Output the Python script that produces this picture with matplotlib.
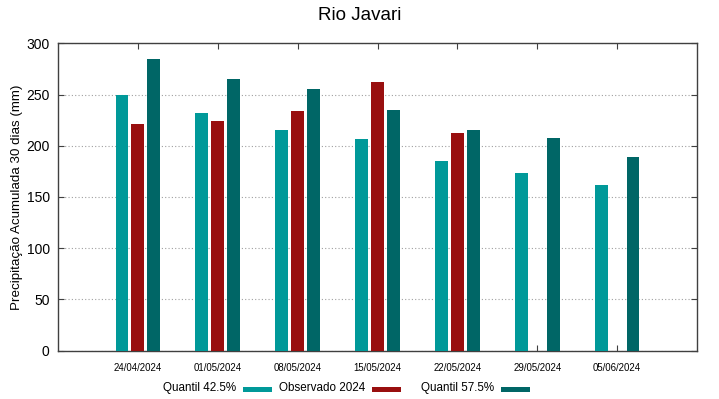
import matplotlib
matplotlib.use("Agg")
import matplotlib.pyplot as plt
import numpy as np
from matplotlib.patches import Rectangle

plt.rcParams['font.family'] = ['Liberation Sans', 'DejaVu Sans']

dates = ["24/04/2024", "01/05/2024", "08/05/2024", "15/05/2024",
         "22/05/2024", "29/05/2024", "05/06/2024"]
q425 = [249.5, 231.5, 215.2, 206.5, 185.3, 173.7, 162.0]
observado = [221.2, 223.8, 233.9, 261.9, 212.4, np.nan, np.nan]
q575 = [285.0, 264.8, 255.0, 235.2, 215.0, 207.9, 188.7]

series = [("Quantil 42.5%", q425, "#009999"),
          ("Observado 2024", observado, "#990f0f"),
          ("Quantil 57.5%", q575, "#006666")]

W, H = 719, 399
fig = plt.figure(figsize=(W / 100, H / 100), dpi=100)
ax = fig.add_axes([58 / W, 1 - 350.7 / H, (697 - 58) / W, (350.7 - 43.3) / H])

x = np.arange(1, len(dates) + 1)
offsets = [-0.2, 0.0, 0.2]
width = 0.16
for (name, vals, col), off in zip(series, offsets):
    ax.bar(x + off, vals, width=width, color=col, zorder=3, label=name)

ax.set_xlim(0, 8)
ax.set_ylim(0, 300)
ax.set_xticks(x)
ax.set_xticklabels(dates, fontsize=6.9)
ax.set_yticks(np.arange(0, 301, 50))
ax.tick_params(axis='y', labelsize=10, direction='in', length=4, right=True, color='#404040', pad=6)
ax.tick_params(axis='x', direction='in', length=4, top=True, color='#404040', pad=9)
for s in ax.spines.values():
    s.set_color('#404040')
    s.set_linewidth(1.0)
ax.yaxis.grid(True, linestyle=(0, (1, 2)), color='#a0a0a0', linewidth=0.8, zorder=0)
ax.set_axisbelow(True)

ax.set_ylabel("Precipitação Acumulada 30 dias (mm)", fontsize=9.6)
ax.yaxis.set_label_coords((23 - 58) / 639, 0.5)
fig.text(0.5, 1 - 16 / H, "Rio Javari", ha='center', va='center', fontsize=13.5)

# legend, gnuplot style: text then swatch
text_ends = [236, 365, 494]
for (name, vals, col), te in zip(series, text_ends):
    fig.text(te / W, 1 - 388 / H, name, ha='right', va='center', fontsize=8.4)
    fig.patches.append(Rectangle(((te + 7) / W, 1 - 391.5 / H), 29 / W, 5 / H,
                                 transform=fig.transFigure, facecolor=col,
                                 edgecolor='none', figure=fig))

fig.savefig("out.png", dpi=100)
